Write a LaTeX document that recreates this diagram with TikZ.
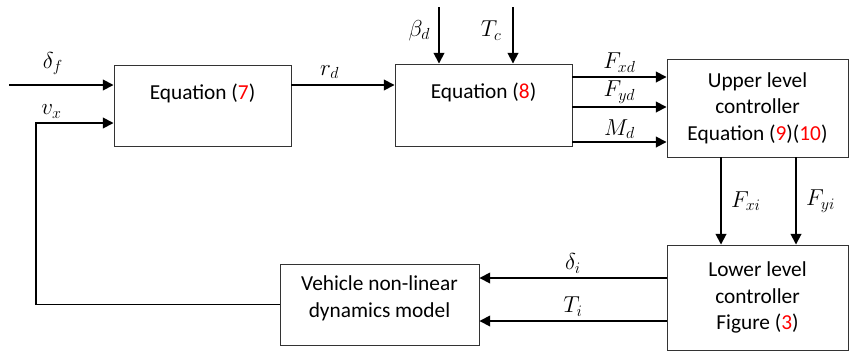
\documentclass[tikz,border=0pt]{standalone}
\usepackage{fontspec}
\setmainfont{Carlito}
\usepackage{tikz}
\usetikzlibrary{arrows.meta, positioning, calc}
\tikzstyle{block} = [draw=black!80, rectangle, line width=0.7pt, align=center, inner sep=0pt]
\tikzstyle{sig} = [line width=1.3pt, -{Triangle[length=8pt,width=8pt]}]
\tikzstyle{lab} = [font=\fontsize{18}{20}\selectfont, inner sep=1pt]

\begin{document}
\begin{tikzpicture}[x=0.75pt, y=-0.75pt, font=\fontsize{16}{20}\selectfont]
        \useasboundingbox (0,0) rectangle (850,351);
        % blocks
        \node[block, minimum width=132.75pt, minimum height=60.75pt,
              label={[below=11pt]north:Equation (\textcolor{red}{7})}] (eqseven) at (202.5,105.5) {};
        \node[block, minimum width=132.75pt, minimum height=61.5pt,
              label={[below=11pt]north:Equation (\textcolor{red}{8})}] (eqeight) at (483.5,105) {};
        \node[block, minimum width=135.75pt, minimum height=73.5pt] (upper) at (757.5,108)
              {Upper level\\ controller\\ Equation (\textcolor{red}{9})(\textcolor{red}{10})};
        \node[block, minimum width=135.75pt, minimum height=78.75pt] (lower) at (757.5,297.5)
              {Lower level\\ controller\\ Figure (\textcolor{red}{3})};
        \node[block, minimum width=149.25pt, minimum height=60.75pt] (vehicle) at (379.5,304.5)
              {Vehicle non-linear\\ dynamics model\\[-8pt]};
        % free ends and rows
        \coordinate (deltain) at (9,85);
        \coordinate (vxcorner) at (36,123);
        \coordinate (betain) at (439,7);
        \coordinate (tcin) at (513,7);
        \coordinate (rowfx) at (0,77);
        \coordinate (rowfy) at (0,107);
        \coordinate (rowmd) at (0,142);
        \coordinate (colfx) at (721,0);
        \coordinate (colfy) at (796,0);
        \coordinate (rowdi) at (0,278);
        \coordinate (rowti) at (0,321);
        % connectors
        \draw[sig] (deltain) -- node[lab, pos=0.42, above=6pt] {$\delta_f$} (eqseven.west |- deltain);
        \draw[sig] (vehicle.west) -| (vxcorner) -- node[lab, pos=0.2, above=2pt] {$v_x$} (eqseven.west |- vxcorner);
        \draw[sig] (eqseven.east |- deltain) -- node[lab, pos=0.37, above=3pt] {$r_d$} (eqeight.west |- deltain);
        \draw[sig] (betain) -- node[lab, pos=0.42, left=5pt] {$\beta_d$} (eqeight.north -| betain);
        \draw[sig] (tcin) -- node[lab, pos=0.42, left=7pt] {$T_c$} (eqeight.north -| tcin);
        \draw[sig] (eqeight.east |- rowfx) -- node[lab, above=2pt] {$F_{xd}$} (upper.west |- rowfx);
        \draw[sig] (eqeight.east |- rowfy) -- node[lab, above=1pt] {$F_{yd}$} (upper.west |- rowfy);
        \draw[sig] (eqeight.east |- rowmd) -- node[lab, above=1pt] {$M_d$} (upper.west |- rowmd);
        \draw[sig] (upper.south -| colfx) -- node[lab, pos=0.5, right=6pt] {$F_{xi}$} (lower.north -| colfx);
        \draw[sig] (upper.south -| colfy) -- node[lab, pos=0.5, right=6pt] {$F_{yi}$} (lower.north -| colfy);
        \draw[sig] (lower.west |- rowdi) -- node[lab, above=2pt] {$\delta_i$} (vehicle.east |- rowdi);
        \draw[sig] (lower.west |- rowti) -- node[lab, above=2pt] {$T_i$} (vehicle.east |- rowti);
    \end{tikzpicture}
\end{document}
